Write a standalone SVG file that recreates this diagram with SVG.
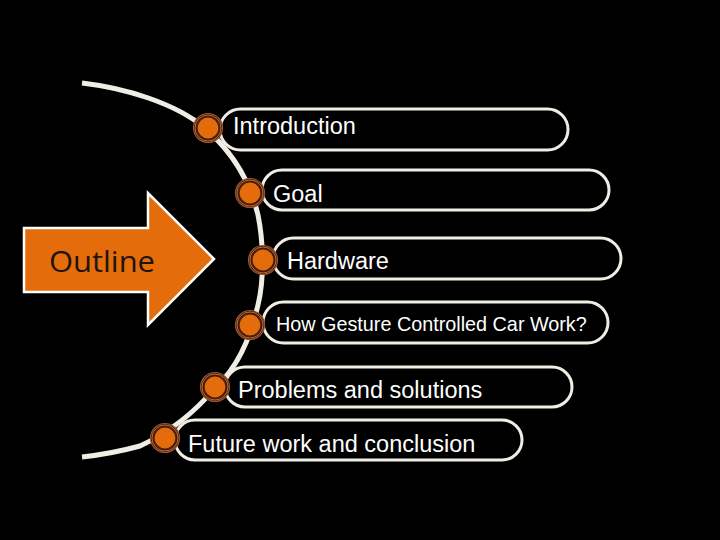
<svg xmlns="http://www.w3.org/2000/svg" width="720" height="540" viewBox="0 0 720 540">
<defs>
<style>
.box{fill:#000;stroke:#f0ede4;stroke-width:3}
.lbl{font-family:"Liberation Sans",Arial,sans-serif;font-size:23.5px;fill:#fff}
.small{font-size:19.8px}
.ring1{fill:#3a1a0c;stroke:#9a5530;stroke-width:1.2}
.ring2{fill:none;stroke:#c46a32;stroke-width:1}
.dot{fill:#e46c0a;stroke:#4a2210;stroke-width:1.2}
.arc{fill:none;stroke:#f0ede4;stroke-width:5;stroke-linecap:butt}
</style>
</defs>
<rect x="0" y="0" width="720" height="540" fill="#000"/>
<g id="connectors">
<path class="arc" d="M82,83 C125,88 175,103 205,128 C230,150 250,180 258,215 C264,245 264,280 258,305 C250,340 235,370 215,388 C195,412 170,432 140,446 C118,452 100,455 82,457"/>
</g>
<g id="outline">
<path d="M24,228 L148,228 L148,193 L214,259 L148,325 L148,292 L24,292 Z" fill="#e46c0a" stroke="#ffffff" stroke-width="2.5" stroke-linejoin="miter"/>
<text x="49" y="272" font-family="'Open Sans','Noto Sans',sans-serif" font-size="30" fill="#1c140e" textLength="106" lengthAdjust="spacingAndGlyphs">Outline</text>
</g>
<g id="introduction">
<rect class="box" x="220" y="109" width="348" height="41" rx="20.5"/>
<circle class="ring1" cx="208" cy="128" r="14.5"/>
<circle class="ring2" cx="208" cy="128" r="13"/>
<circle class="dot" cx="208" cy="128" r="11"/>
<text class="lbl" x="233" y="134">Introduction</text>
</g>
<g id="goal">
<rect class="box" x="262" y="170" width="347" height="40" rx="20"/>
<circle class="ring1" cx="250" cy="193" r="14.5"/>
<circle class="ring2" cx="250" cy="193" r="13"/>
<circle class="dot" cx="250" cy="193" r="11"/>
<text class="lbl" x="273" y="202">Goal</text>
</g>
<g id="hardware">
<rect class="box" x="273" y="238" width="348" height="41" rx="20.5"/>
<circle class="ring1" cx="263" cy="260" r="14.5"/>
<circle class="ring2" cx="263" cy="260" r="13"/>
<circle class="dot" cx="263" cy="260" r="11"/>
<text class="lbl" x="287" y="269">Hardware</text>
</g>
<g id="how">
<rect class="box" x="263" y="302" width="345" height="41" rx="20.5"/>
<circle class="ring1" cx="250" cy="325" r="14.5"/>
<circle class="ring2" cx="250" cy="325" r="13"/>
<circle class="dot" cx="250" cy="325" r="11"/>
<text class="lbl small" x="276" y="331">How Gesture Controlled Car Work?</text>
</g>
<g id="problems">
<rect class="box" x="225" y="367" width="347" height="40" rx="20"/>
<circle class="ring1" cx="215" cy="387" r="14.5"/>
<circle class="ring2" cx="215" cy="387" r="13"/>
<circle class="dot" cx="215" cy="387" r="11"/>
<text class="lbl" x="238" y="398">Problems and solutions</text>
</g>
<g id="future">
<rect class="box" x="175" y="420" width="347" height="40" rx="20"/>
<circle class="ring1" cx="165" cy="438" r="14.5"/>
<circle class="ring2" cx="165" cy="438" r="13"/>
<circle class="dot" cx="165" cy="438" r="11"/>
<text class="lbl" x="188" y="452">Future work and conclusion</text>
</g>
</svg>
